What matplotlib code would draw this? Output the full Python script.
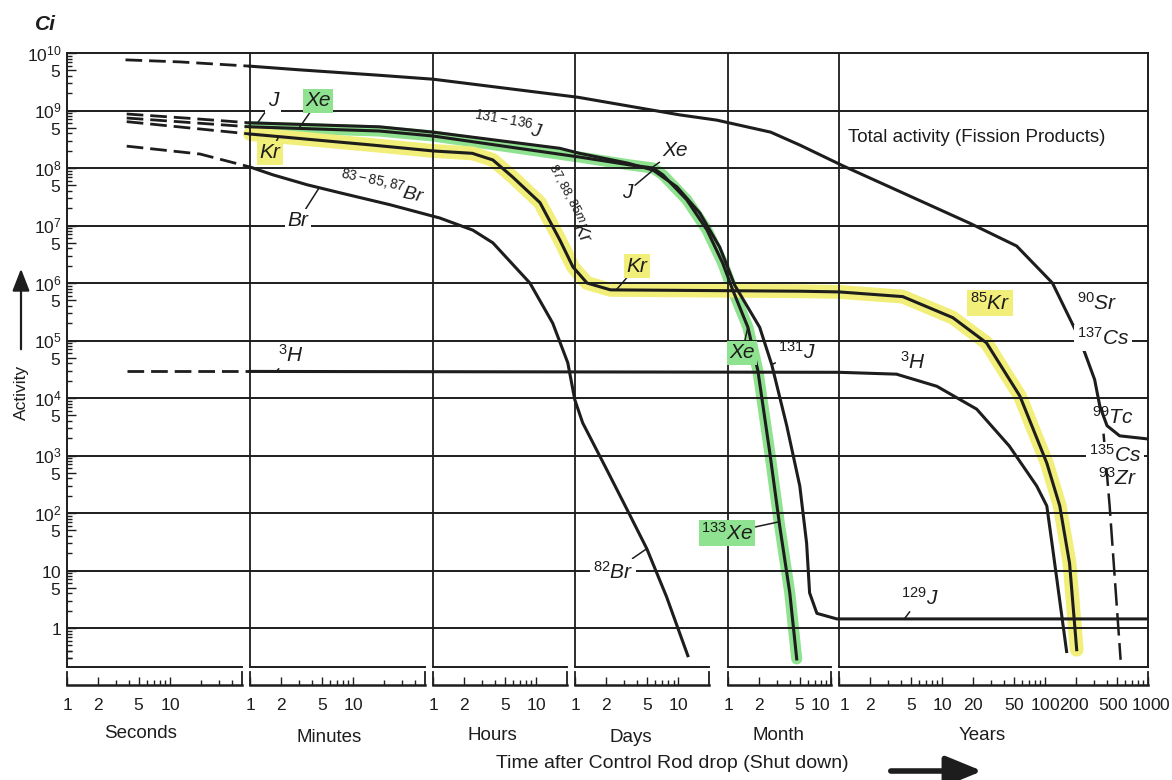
import matplotlib.pyplot as plt
from matplotlib import font_manager
from matplotlib.transforms import ScaledTranslation

W, H = 1172, 780
INK = '#1d1d1d'
GREEN = '#8fe28f'
YELLOW = '#f2ee7a'

installed = {f.name for f in font_manager.fontManager.ttflist}
NARROW = 'Liberation Sans Narrow' if 'Liberation Sans Narrow' in installed else 'Liberation Sans'

plt.rcParams['font.family'] = ['DejaVu Sans']
plt.rcParams['mathtext.fontset'] = 'custom'
plt.rcParams['mathtext.rm'] = NARROW
plt.rcParams['mathtext.it'] = NARROW + ':italic'
plt.rcParams['mathtext.bf'] = NARROW + ':bold'
plt.rcParams['mathtext.default'] = 'it'

SEC = 1.0
MIN = 60.0
HOUR = 3600.0
DAY = 86400.0
YEAR = 365.25 * DAY
MONTH = YEAR / 12

# ---- values: time in seconds, activity in Ci ----
total_dash_t = [3.7 * SEC, 12.5 * SEC, 1 * MIN]
total_dash_a = [7.6e9, 7.0e9, 5.9e9]
total_t = [1 * MIN, 3 * MIN, 18 * MIN, 1 * HOUR, 1.06 * DAY, 10.3 * DAY, 23.7 * DAY, 2.6 * MONTH,
           5 * MONTH, 1.08 * YEAR, 18.5 * YEAR, 53 * YEAR, 118 * YEAR, 217 * YEAR, 303 * YEAR,
           340 * YEAR, 400 * YEAR, 530 * YEAR, 1000 * YEAR]
total_a = [5.9e9, 5.1e9, 4.1e9, 3.5e9, 1.7e9, 8.4e8, 6.8e8, 4.2e8, 2.5e8, 1.1e8, 1.1e7, 4.4e6,
           1.0e6, 1.07e5, 2.1e4, 7.3e3, 3.3e3, 2.2e3, 1.94e3]

# 135Cs / 93Zr branch (dashed)
cs_t = [370 * YEAR, 424 * YEAR, 542 * YEAR]
cs_a = [2.4e3, 133, 0.28]

# iodine 131-136 J, later 131J and 129J
j_dash_t = [3.8 * SEC, 15.6 * SEC, 1 * MIN]
j_dash_a = [8.7e8, 7.3e8, 6.1e8]
j_t = [1 * MIN, 18 * MIN, 1 * HOUR, 17 * HOUR, 1.1 * DAY, 3.2 * DAY, 5.7 * DAY, 9.7 * DAY,
       16.2 * DAY, 25.3 * DAY, 1.16 * MONTH, 2.03 * MONTH, 2.66 * MONTH, 3.72 * MONTH,
       4.98 * MONTH, 5.8 * MONTH, 6.2 * MONTH, 7.3 * MONTH, 0.95 * YEAR, 1000 * YEAR]
j_a = [6.1e8, 5.2e8, 4.2e8, 2.2e8, 1.8e8, 1.22e8, 9.2e7, 4.7e7, 1.65e7, 4.2e6, 9.2e5, 1.7e5,
       3.8e4, 3.3e3, 295, 30, 4.1, 1.8, 1.44, 1.44]

# xenon, later 133Xe
xe_dash_t = [3.8 * SEC, 1 * MIN]
xe_dash_a = [7.4e8, 5.2e8]
xe_t = [1 * MIN, 18 * MIN, 1 * HOUR, 1.1 * DAY, 3.4 * DAY, 5.7 * DAY, 7.1 * DAY, 12.1 * DAY,
        19 * DAY, 0.89 * MONTH, 1.11 * MONTH, 1.56 * MONTH, 1.95 * MONTH, 2.55 * MONTH,
        3.18 * MONTH, 3.98 * MONTH, 4.65 * MONTH]
xe_a = [5.2e8, 4.4e8, 3.6e8, 1.55e8, 1.13e8, 1.0e8, 7.6e7, 2.8e7, 8.4e6, 2.2e6, 7.6e5, 1.7e5,
        3.0e4, 1.1e3, 59, 4.1, 0.29]

# krypton 87,88,85m Kr, later 85Kr
kr_dash_t = [3.8 * SEC, 1 * MIN]
kr_dash_a = [6.4e8, 3.9e8]
kr_t = [1 * MIN, 15.6 * MIN, 1 * HOUR, 2.4 * HOUR, 3.8 * HOUR, 5.9 * HOUR, 10.9 * HOUR,
        17 * HOUR, 0.95 * DAY, 1.3 * DAY, 2.2 * DAY, 5 * MONTH, 1 * YEAR, 4.15 * YEAR,
        12.7 * YEAR, 27 * YEAR, 57 * YEAR, 104 * YEAR, 139 * YEAR, 173 * YEAR, 203 * YEAR]
kr_a = [3.9e8, 2.5e8, 1.98e8, 1.8e8, 1.38e8, 7e7, 2.5e7, 5.6e6, 1.9e6, 1e6, 7.6e5, 7.2e5,
        7.0e5, 5.8e5, 2.5e5, 9.1e4, 1.08e4, 740, 133, 13.4, 0.42]

# tritium
h3_dash_t = [3.8 * SEC, 1 * MIN]
h3_dash_a = [2.9e4, 2.9e4]
h3_t = [1 * MIN, 1 * YEAR, 3.6 * YEAR, 8.9 * YEAR, 21.7 * YEAR, 45 * YEAR, 83 * YEAR,
        104 * YEAR, 118 * YEAR, 162 * YEAR]
h3_a = [2.9e4, 2.8e4, 2.6e4, 1.6e4, 6.4e3, 1.46e3, 295, 133, 26, 0.39]

# bromine 83-85,87 Br, later 82Br
br_dash_t = [3.8 * SEC, 19.6 * SEC, 1 * MIN]
br_dash_a = [2.4e8, 1.75e8, 1.04e8]
br_t = [1 * MIN, 1.67 * MIN, 3.6 * MIN, 7.5 * MIN, 22.8 * MIN, 1.16 * HOUR, 2.43 * HOUR,
        3.8 * HOUR, 8.7 * HOUR, 14.5 * HOUR, 20.3 * HOUR, 0.99 * DAY, 1.18 * DAY, 2.03 * DAY,
        3.2 * DAY, 4.95 * DAY, 7.7 * DAY, 12.4 * DAY]
br_a = [1.04e8, 7.6e7, 5.1e7, 3.7e7, 2.3e7, 1.35e7, 8.3e6, 5e6, 1e6, 2e5, 4.1e4, 9.3e3, 3.7e3,
        560, 113, 24, 3.5, 0.33]

# time axis: one block per unit
seg_names = ['Seconds', 'Minutes', 'Hours', 'Days', 'Month', 'Years']
seg_units = [SEC, MIN, HOUR, DAY, MONTH, YEAR]
seg_end = [50, 50, 20, 20, 10, 1000]
tick_major = [[1, 2, 5, 10]] * 5 + [[1, 2, 5, 10, 20, 50, 100, 200, 500, 1000]]
tick_minor = [[3, 4, 6, 7, 8, 9, 20, 30, 40], [3, 4, 6, 7, 8, 9, 20, 30, 40],
              [3, 4, 6, 7, 8, 9], [3, 4, 6, 7, 8, 9], [3, 4, 6, 7, 8, 9],
              [3, 4, 6, 7, 8, 9, 30, 40, 60, 70, 80, 90, 300, 400, 600, 700, 800, 900]]


fig = plt.figure(figsize=(W / 100, H / 100), dpi=100)
ax = fig.add_axes([67 / W, 1 - 667 / H, (1148 - 67) / W, (667 - 53) / H])
ax.set_xscale('log')
ax.set_yscale('log')

# grid
for k in range(0, 10):
    ax.axhline(10 ** k, color=INK, lw=1.4, zorder=1)
for u in seg_units[1:]:
    ax.axvline(u, color=INK, lw=1.3, zorder=1)

# marker highlights
ax.plot(xe_t, xe_a, color=GREEN, lw=8, solid_capstyle='round', zorder=0.6)
ax.plot(kr_t, kr_a, color=YELLOW, lw=10, solid_capstyle='round', zorder=0.6)

dash = (0, (6, 2.5))
for t, a in [(total_dash_t, total_dash_a), (j_dash_t, j_dash_a), (xe_dash_t, xe_dash_a),
             (kr_dash_t, kr_dash_a), (h3_dash_t, h3_dash_a), (br_dash_t, br_dash_a)]:
    ax.plot(t, a, color=INK, lw=2, ls=dash, zorder=3)
ax.plot(cs_t, cs_a, color=INK, lw=1.8, ls=(0, (9, 3)), zorder=3)
for t, a in [(total_t, total_a), (j_t, j_a), (xe_t, xe_a), (kr_t, kr_a), (h3_t, h3_a), (br_t, br_a)]:
    ax.plot(t, a, color=INK, lw=2.2, zorder=3, solid_joinstyle='round')

ax.set_xlim(1 * SEC, 1000 * YEAR)
ax.set_ylim(0.21, 1e10)

# frame
for s in ['left', 'top', 'right']:
    ax.spines[s].set_color(INK)
    ax.spines[s].set_linewidth(1.4)
ax.spines['bottom'].set_visible(False)
ax.spines['bottom'].set_position(('outward', 13))

# broken bottom frame and tick strip
tr = ax.get_xaxis_transform()
strip = -18 / 614
for u, e in zip(seg_units, seg_end):
    ax.plot([u, e * u], [0, 0], transform=tr, color=INK, lw=1.4, clip_on=False)
    ax.plot([u, e * u], [strip, strip], transform=tr, color=INK, lw=1.8, clip_on=False)
    for s in (u, e * u):
        ax.plot([s, s], [strip, strip + 13 / 614], transform=tr, color=INK, lw=1.3, clip_on=False)

# x ticks
major_x, major_lbl, minor_x = [], [], []
for u, maj, mnr in zip(seg_units, tick_major, tick_minor):
    major_x += [v * u for v in maj]
    major_lbl += [f'${v}$' for v in maj]
    minor_x += [v * u for v in mnr]
ax.set_xticks(major_x, labels=major_lbl)
ax.set_xticks(minor_x, labels=[''] * len(minor_x), minor=True)
ax.tick_params(axis='x', which='major', direction='in', length=6, width=1, color=INK,
               pad=8, labelsize=12.5, labelcolor=INK)
ax.tick_params(axis='x', which='minor', direction='in', length=3.5, width=1, color=INK)
xl = ax.get_xticklabels()
xl[19].set_horizontalalignment('right')
xl[20].set_horizontalalignment('left')
# the last year labels sit close together: nudge them apart by a few pixels
for i, dx in [(27, -2), (28, -4), (29, 3)]:
    xl[i].set_transform(xl[i].get_transform() + ScaledTranslation(dx / 100, 0, fig.dpi_scale_trans))

# y ticks
y_major, y_lbl, y_minor = [], [], []
for k in range(0, 11):
    y_major.append(10.0 ** k)
    y_lbl.append('$1$' if k == 0 else '$10$' if k == 1 else f'$10^{{{k}}}$')
    if k < 10:
        y_major.append(5 * 10.0 ** k)
        y_lbl.append('$5$')
for k in range(-1, 10):
    for m in [2, 3, 4, 6, 7, 8, 9]:
        if 0.21 < m * 10.0 ** k < 1e10:
            y_minor.append(m * 10.0 ** k)
for m in [3, 4, 5]:
    y_minor.append(m * 0.1)
ax.set_yticks(y_major, labels=y_lbl)
ax.set_yticks(y_minor, labels=[''] * len(y_minor), minor=True)
ax.tick_params(axis='y', which='major', direction='in', length=6.5, width=1, color=INK,
               pad=4, labelsize=12.5, labelcolor=INK)
ax.tick_params(axis='y', which='minor', direction='in', length=3.5, width=1, color=INK)


def label(text, px, py, target=None, box=None, rot=0, size=15, style='italic', family=NARROW):
    bbox = None
    if box:
        bbox = dict(boxstyle='square,pad=0.12', fc=box, ec='none')
    props = None
    if target is not None:
        props = dict(arrowstyle='-', color=INK, lw=1.1, shrinkA=0, shrinkB=0)
    ax.annotate(text, xy=target if target else (px, H - py),
                xycoords='data' if target else 'figure pixels',
                xytext=(px, H - py), textcoords='figure pixels', ha='center', va='center',
                rotation=rot, fontsize=size, fontstyle=style, family=family, color=INK,
                bbox=bbox, arrowprops=props, zorder=5, annotation_clip=False)


label('J', 273, 101, target=(71 * SEC, 6.1e8), box='white')
label('Xe', 318, 101, target=(3 * MIN, 5.0e8), box=GREEN)
label('Kr', 270, 153, target=(1.9 * MIN, 3.5e8), box=YELLOW)
label('$^{83-85,87}$Br', 383, 186, rot=-12, size=14)
label('Br', 298, 221, target=(4.6 * MIN, 4.3e7), box='white')
label('$^{131-136}$J', 508, 124, rot=-10, size=14)
label('$^{87,88,85m}$Kr', 567, 205, rot=-62, size=13)
label('Xe', 675, 151, target=(5.5 * DAY, 1.0e8))
label('J', 627, 192, target=(5.7 * DAY, 9.2e7))
label('Kr', 637, 266, target=(2.5 * DAY, 7.6e5), box=YELLOW)
label('Total activity (Fission Products)', 977, 138, style='normal', size=13.5,
      family='Liberation Sans')
label('$^{3}$H', 291, 355, target=(1.8 * MIN, 2.9e4))
label('Xe', 742, 353, target=(1.56 * MONTH, 1.7e5), box=GREEN)
label('$^{131}$J', 797, 352, target=(2.66 * MONTH, 3.8e4))
label('$^{3}$H', 913, 362, target=(3.6 * YEAR, 2.6e4))
label('$^{85}$Kr', 990, 303, box=YELLOW)
label('$^{90}$Sr', 1097, 303)
label('$^{137}$Cs', 1103, 338, box='white')
label('$^{99}$Tc', 1113, 417)
label('$^{135}$Cs', 1115, 455, box='white')
label('$^{93}$Zr', 1118, 478)
label('$^{133}$Xe', 727, 533, target=(3.1 * MONTH, 70), box=GREEN)
label('$^{82}$Br', 613, 572, target=(4.95 * DAY, 24), box='white')
label('$^{129}$J', 920, 598, target=(4.3 * YEAR, 1.44))

# axis titles
name_pos = [(141, 733), (329, 738), (492, 735), (631, 737), (779, 735), (982, 735)]
for name, (px, py) in zip(seg_names, name_pos):
    fig.text(px / W, 1 - py / H, name, ha='center', va='center', fontsize=13.5,
             family='Liberation Sans', color=INK)
fig.text(672 / W, 1 - 763 / H, 'Time after Control Rod drop (Shut down)', ha='center',
         va='center', fontsize=14, family='Liberation Sans', color=INK)
ax.annotate('', xy=(985, H - 771), xytext=(888, H - 771), xycoords='figure pixels',
            arrowprops=dict(arrowstyle='-|>,head_length=1.1,head_width=0.45', lw=4, color=INK,
                            mutation_scale=20), annotation_clip=False)

fig.text(45 / W, 1 - 24 / H, 'Ci', ha='center', va='center', fontsize=15, fontstyle='italic',
         fontweight='bold', family=NARROW, color=INK)
fig.text(21 / W, 1 - 392 / H, 'Activity', ha='center', va='center', rotation=90, fontsize=12.5,
         family='Liberation Sans', color=INK)
ax.annotate('', xy=(21, H - 266), xytext=(21, H - 352), xycoords='figure pixels',
            arrowprops=dict(arrowstyle='-|>,head_length=0.9,head_width=0.35', lw=1.6, color=INK,
                            mutation_scale=15), annotation_clip=False)

fig.savefig('out.png', dpi=100, facecolor='white')
